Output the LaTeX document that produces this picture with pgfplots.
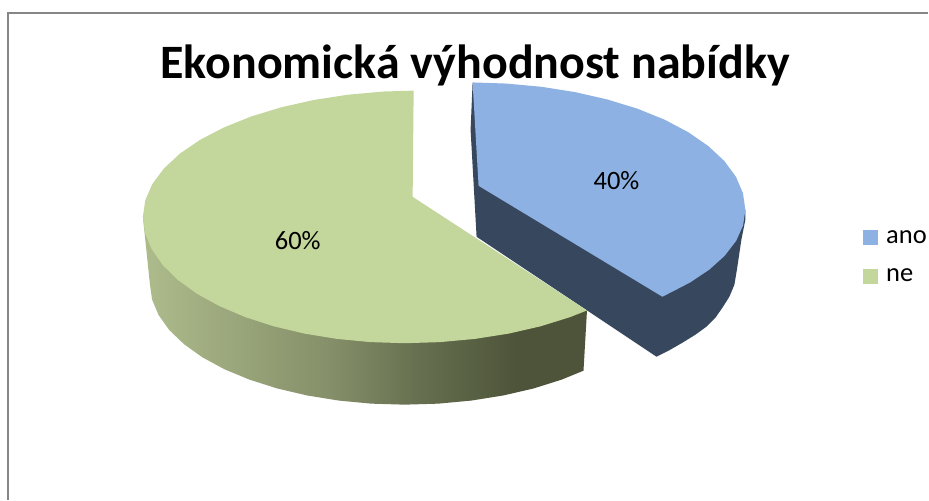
\documentclass[border=0pt]{standalone}
\usepackage{pgfplots}
\pgfplotsset{compat=1.18}
\usepackage{fontspec}
\setmainfont{Carlito}

\definecolor{anotop}{HTML}{8CB1E2}
\definecolor{anoside}{HTML}{37475D}
\definecolor{netop}{HTML}{C3D69B}
\definecolor{frameline}{HTML}{868686}
\definecolor{neA}{HTML}{AEBC8C}
\definecolor{neB}{HTML}{858F69}
\definecolor{neC}{HTML}{667050}
\definecolor{neD}{HTML}{4E5439}

% side of the green slice: light on the left, dark towards the cut
\pgfdeclarehorizontalshading{neside}{100bp}{
  color(0bp)=(neA);
  color(25bp)=(neA);
  color(46bp)=(neB);
  color(56bp)=(neC);
  color(67bp)=(neD);
  color(100bp)=(neD)}

\begin{document}
\begin{tikzpicture}
  \begin{axis}[
    scale only axis,
    width=929pt,
    height=500pt,
    xmin=0, xmax=929,
    ymin=0, ymax=500,
    y dir=reverse,
    hide axis,
    clip=false,
    legend style={
      at={(axis cs:864,229)},
      anchor=north west,
      draw=none,
      fill=none,
      inner sep=0pt,
      outer sep=0pt,
      row sep=20pt,
      font=\fontsize{26.5}{30}\selectfont,
      /tikz/every odd column/.append style={column sep=6pt}
    },
    legend cell align=left,
    legend image code/.code={
      \fill[#1] (0pt,-7.5pt) rectangle (15pt,7.5pt);
    },
  ]

    % page background, keeps the picture at full size
    \addplot[draw=none, fill=white, forget plot] coordinates {
      (0,0) (929,0) (929,500) (0,500)
    };

    % frame
    \addplot[frameline, line width=1.6pt, forget plot] coordinates {
      (8,500) (8,13) (929,13)
    };

    % side of the blue slice
    \addplot[draw=none, fill=anoside, forget plot] coordinates {
      (473,83) (471,130) (477,237) (657,357) (670,350.5) (683,343) (696,335)
      (707,327) (716,318) (723,308) (730,297) (735,285) (738,267) (742,240)
      (746,220) (746,210)
    };

    % side of the green slice
    \addplot[draw=none, shading=neside, forget plot] coordinates {
      (143,217) (150,284) (152.2,299.8) (158.7,315.3) (169.4,330.3) (184.2,344.5)
      (202.7,357.7) (224.7,369.6) (249.8,380) (277.5,388.8) (307.4,395.8)
      (339,400.9) (371.7,404) (405,405) (438.7,404) (471.8,400.9) (503.7,395.8)
      (534,388.8) (562,380) (584,371) (587.5,310.7) (400,300)
    };

    % top of the blue slice
    \addplot[draw=none, fill=anotop] coordinates {
      (479,186) (473,82.5) (506,83.6) (541.4,86.8) (575.6,92.2) (608,99.6)
      (638,108.8) (665.2,119.8) (689,132.4) (709,146.25) (725,161.2) (736.6,177)
      (743.6,193.4) (746,210) (743.7,225.7) (736.8,241) (725.4,255.9)
      (709.8,270) (690.2,283) (663,297)
    };
    \addlegendentry{ano}

    % top of the green slice
    \addplot[draw=none, fill=netop] coordinates {
      (413,197) (414,90.7) (383.9,91.6) (348.3,94.8) (314,100.1) (281.5,107.4)
      (251.4,116.6) (224.1,127.6) (200.2,140) (180.1,153.75) (164.1,168.6)
      (152.4,184.3) (145.4,200.5) (143,217) (145.2,233.5) (152,249.7) (163,265.4)
      (178.1,280.25) (197.1,294) (219.7,306.4) (245.5,317.4) (274,326.6)
      (304.7,333.9) (337.2,339.2) (370.8,342.4) (405,343.5) (440.5,342.4)
      (475.4,339.2) (509.1,333.9) (541,326.6) (570.6,317.4) (587.5,310.7)
    };
    \addlegendentry{ne}

    \node[font=\fontsize{48}{52}\selectfont\bfseries, anchor=base] at (axis cs:475.5,79)
      {Ekonomická výhodnost nabídky};
    \node[font=\fontsize{26.5}{30}\selectfont] at (axis cs:298,241) {60\%};
    \node[font=\fontsize{26.5}{30}\selectfont] at (axis cs:617,181) {40\%};

  \end{axis}
\end{tikzpicture}
\end{document}
